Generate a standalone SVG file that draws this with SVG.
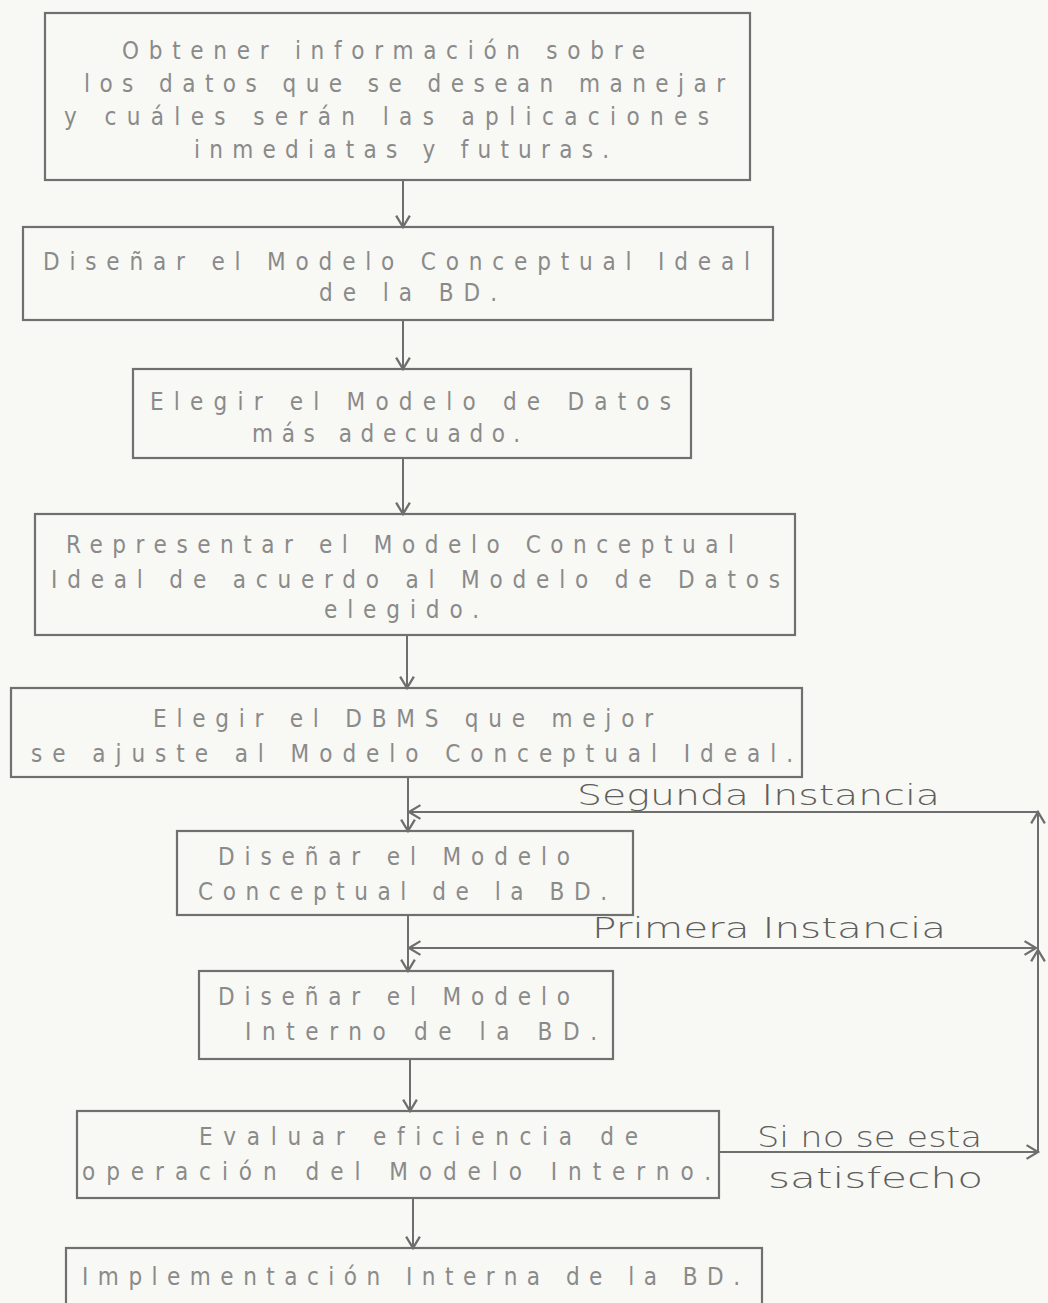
<svg xmlns="http://www.w3.org/2000/svg" width="1048" height="1303" viewBox="0 0 1048 1303">
<defs>
<style>
.box{fill:none;stroke:#707070;stroke-width:2.2}
.t{font-family:"DejaVu Sans Condensed","Liberation Sans",Arial,sans-serif;font-size:24px;fill:#8a8a8a;font-variant-ligatures:none}
.h{font-family:"DejaVu Sans ExtraLight","DejaVu Sans","Liberation Sans",sans-serif;font-weight:200;font-size:28px;fill:#5e5e5e}
.c{fill:none;stroke:#6e6e6e;stroke-width:2}
</style>
<marker id="ar" markerUnits="userSpaceOnUse" markerWidth="16" markerHeight="16" refX="11" refY="7" orient="auto-start-reverse" viewBox="0 0 14 14">
<path d="M1,1 L11,7 L1,13" fill="none" stroke="#6e6e6e" stroke-width="2"/>
</marker>
</defs>
<rect width="1048" height="1303" fill="#f8f8f4"/>

<g id="connectors">
<path class="c" d="M403,180 V227" marker-end="url(#ar)"/>
<path class="c" d="M403,320 V369" marker-end="url(#ar)"/>
<path class="c" d="M403,458 V514" marker-end="url(#ar)"/>
<path class="c" d="M407,635 V688" marker-end="url(#ar)"/>
<path class="c" d="M408,777 V831" marker-end="url(#ar)"/>
<path class="c" d="M408,915 V971" marker-end="url(#ar)"/>
<path class="c" d="M410,1059 V1111" marker-end="url(#ar)"/>
<path class="c" d="M413,1198 V1248" marker-end="url(#ar)"/>
<path class="c" d="M719,1152 H1038" marker-end="url(#ar)"/>
<path class="c" d="M1038,1152 V950" marker-end="url(#ar)"/>
<path class="c" d="M1038,950 V812" marker-end="url(#ar)"/>
<path class="c" d="M1038,812 H409" marker-end="url(#ar)"/>
<path class="c" d="M1036,948 H409" marker-start="url(#ar)" marker-end="url(#ar)"/>
<text class="h" x="577" y="805" textLength="363" lengthAdjust="spacingAndGlyphs">Segunda Instancia</text>
<text class="h" x="592" y="938" textLength="354" lengthAdjust="spacingAndGlyphs">Primera Instancia</text>
<text class="h" x="757" y="1147" textLength="225" lengthAdjust="spacingAndGlyphs">Si no se esta</text>
<text class="h" x="768" y="1188" textLength="215" lengthAdjust="spacingAndGlyphs">satisfecho</text>
</g>

<g id="n1">
<rect class="box" x="45" y="13" width="705" height="167"/>
<text class="t" x="122" y="59" textLength="523" lengthAdjust="spacing">Obtener información sobre</text>
<text class="t" x="84" y="92" textLength="641" lengthAdjust="spacing">los datos que se desean manejar</text>
<text class="t" x="64" y="125" textLength="645" lengthAdjust="spacing">y cuáles serán las aplicaciones</text>
<text class="t" x="194" y="158" textLength="415" lengthAdjust="spacing">inmediatas y futuras.</text>
</g>
<g id="n2">
<rect class="box" x="23" y="227" width="750" height="93"/>
<text class="t" x="43" y="270" textLength="707" lengthAdjust="spacing">Diseñar el Modelo Conceptual Ideal</text>
<text class="t" x="319" y="301" textLength="178" lengthAdjust="spacing">de la BD.</text>
</g>
<g id="n3">
<rect class="box" x="133" y="369" width="558" height="89"/>
<text class="t" x="150" y="410" textLength="521" lengthAdjust="spacing">Elegir el Modelo de Datos</text>
<text class="t" x="252" y="442" textLength="268" lengthAdjust="spacing">más adecuado.</text>
</g>
<g id="n4">
<rect class="box" x="35" y="514" width="760" height="121"/>
<text class="t" x="66" y="553" textLength="668" lengthAdjust="spacing">Representar el Modelo Conceptual</text>
<text class="t" x="51" y="588" textLength="729" lengthAdjust="spacing">Ideal de acuerdo al Modelo de Datos</text>
<text class="t" x="324" y="618" textLength="155" lengthAdjust="spacing">elegido.</text>
</g>
<g id="n5">
<rect class="box" x="11" y="688" width="791" height="89"/>
<text class="t" x="153" y="727" textLength="500" lengthAdjust="spacing">Elegir el DBMS que mejor</text>
<text class="t" x="31" y="762" textLength="762" lengthAdjust="spacing">se ajuste al Modelo Conceptual Ideal.</text>
</g>
<g id="n6">
<rect class="box" x="177" y="831" width="456" height="84"/>
<text class="t" x="218" y="865" textLength="352" lengthAdjust="spacing">Diseñar el Modelo</text>
<text class="t" x="198" y="900" textLength="409" lengthAdjust="spacing">Conceptual de la BD.</text>
</g>
<g id="n7">
<rect class="box" x="199" y="971" width="414" height="88"/>
<text class="t" x="218" y="1005" textLength="352" lengthAdjust="spacing">Diseñar el Modelo</text>
<text class="t" x="245" y="1040" textLength="352" lengthAdjust="spacing">Interno de la BD.</text>
</g>
<g id="n8">
<rect class="box" x="77" y="1111" width="642" height="87"/>
<text class="t" x="199" y="1145" textLength="439" lengthAdjust="spacing">Evaluar eficiencia de</text>
<text class="t" x="82" y="1180" textLength="629" lengthAdjust="spacing">operación del Modelo Interno.</text>
</g>
<g id="n9">
<rect class="box" x="66" y="1248" width="696" height="60"/>
<text class="t" x="82" y="1285" textLength="658" lengthAdjust="spacing">Implementación Interna de la BD.</text>
</g>
</svg>
